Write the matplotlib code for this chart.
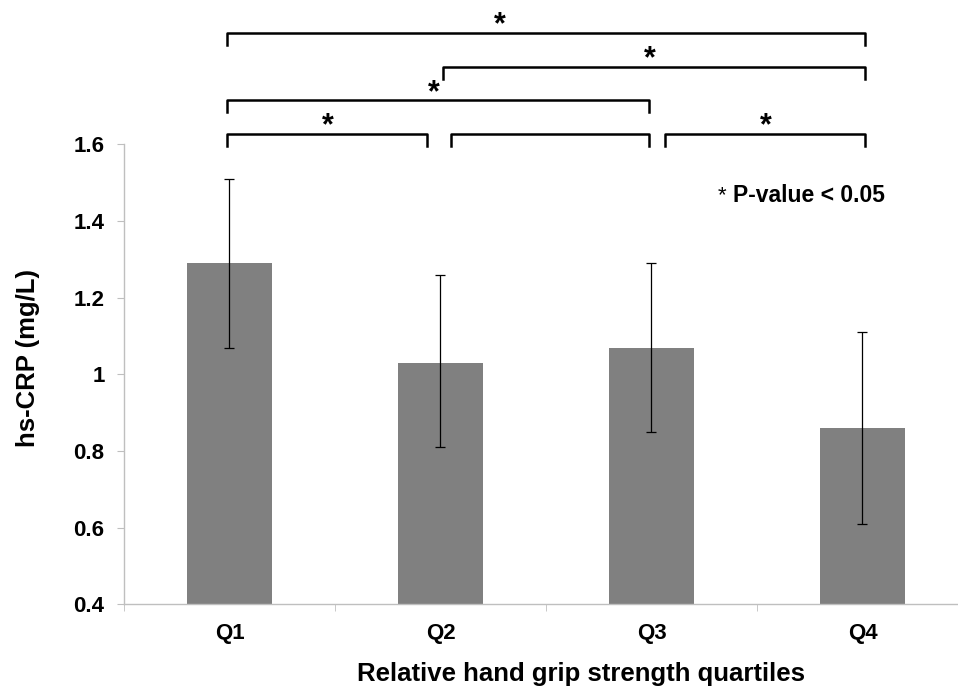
import matplotlib.pyplot as plt

plt.rcParams['font.family'] = ['Liberation Sans', 'DejaVu Sans']

# DATA
quartiles = ["Q1", "Q2", "Q3", "Q4"]
hs_crp = [1.29, 1.03, 1.07, 0.86]
err_low = [0.22, 0.22, 0.22, 0.25]
err_high = [0.22, 0.23, 0.22, 0.25]

# significance brackets: (left end, right end, level, star x or None)
brackets = [
    (-0.01, 3.01, 1.890, 1.28),
    (1.01, 3.01, 1.801, 1.99),
    (-0.01, 1.99, 1.716, 0.97),
    (-0.01, 0.935, 1.627, 0.465),
    (1.05, 1.99, 1.627, None),
    (2.065, 3.01, 1.627, 2.54),
]
# star baselines, same order as brackets
star_base = [1.890, 1.802, 1.713, 1.627, None, 1.627]

# FIGURE
fig = plt.figure(figsize=(9.58, 6.87), dpi=100)
ax = fig.add_axes([0.1294, 0.1201, 0.881, 0.6699])

x = list(range(len(quartiles)))

ax.bar(x, hs_crp, width=0.4, color="#808080", zorder=2)

ax.errorbar(
    x, hs_crp,
    yerr=[err_low, err_high],
    fmt="none",
    ecolor="black",
    elinewidth=0.9,
    capsize=3.5,
    capthick=0.9,
    zorder=3
)

ax.set_xlim(-0.5, 3.5)
ax.set_ylim(0.4, 1.6)
ax.set_yticks([0.4, 0.6, 0.8, 1.0, 1.2, 1.4, 1.6])
ax.set_yticklabels(["0.4", "0.6", "0.8", "1", "1.2", "1.4", "1.6"])
ax.set_xticks(x)
ax.set_xticklabels(quartiles)
ax.set_xticks([-0.5, 0.5, 1.5, 2.5], minor=True)

for side in ["top", "right"]:
    ax.spines[side].set_visible(False)
for side in ["left", "bottom"]:
    ax.spines[side].set_color("#BFBFBF")
    ax.spines[side].set_linewidth(1.0)

ax.tick_params(axis="x", which="major", length=0, pad=13,
               labelsize=16)
ax.tick_params(axis="x", which="minor", length=5, color="#BFBFBF")
ax.tick_params(axis="y", length=5, color="#BFBFBF", pad=9,
               labelsize=16)
for lbl in ax.get_xticklabels() + ax.get_yticklabels():
    lbl.set_fontweight("bold")

ax.set_xlabel("Relative hand grip strength quartiles",
              fontsize=18.5, fontweight="bold", labelpad=13)
ax.set_ylabel("hs-CRP (mg/L)",
              fontsize=18.5, fontweight="bold", labelpad=24)
ax.xaxis.label.set_x(0.5415)
ax.yaxis.label.set_y(0.536)

# BRACKETS
hook = 0.031
for (x0, x1, level, sx), sb in zip(brackets, star_base):
    ax.plot([x0, x0, x1, x1],
            [level - hook, level, level, level - hook],
            color="black", lw=1.8, clip_on=False,
            solid_joinstyle="round")
    if sx is not None:
        ax.text(sx, sb, "*", ha="center", va="baseline",
                fontsize=22, fontweight="bold", clip_on=False)

# P-VALUE NOTE
ax.text(2.385, 1.4495, "* ", ha="right", va="baseline", fontsize=16)
ax.text(2.385, 1.4495, "P-value < 0.05", ha="left", va="baseline",
        fontsize=16.5, fontweight="bold")

fig.savefig("out.png", dpi=100)
